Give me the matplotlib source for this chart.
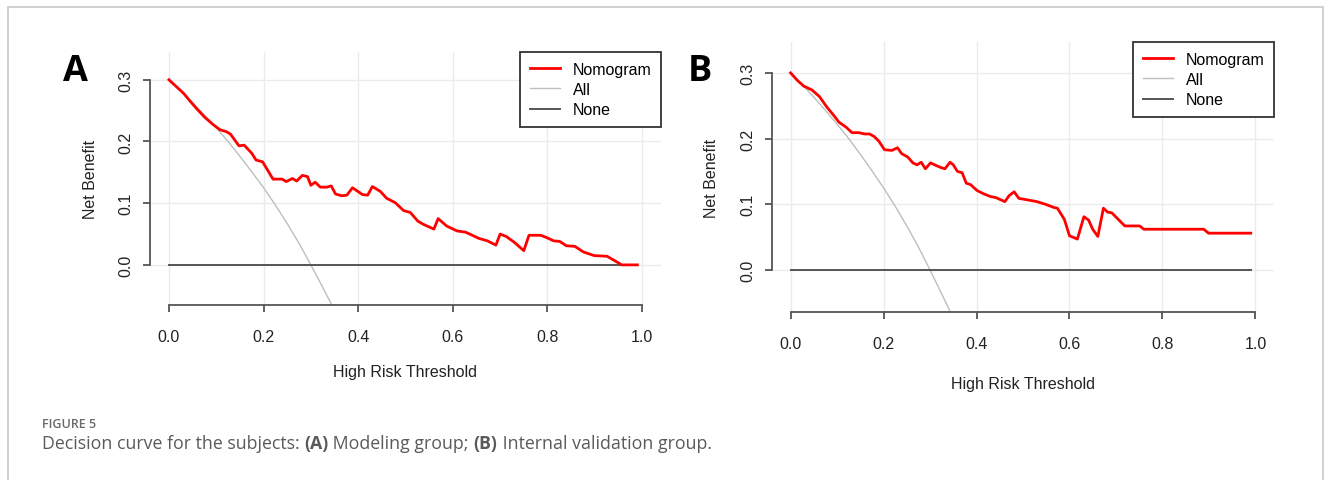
import matplotlib
matplotlib.use("Agg")
import matplotlib.pyplot as plt
from matplotlib.lines import Line2D
from matplotlib.patches import Rectangle

plt.rcParams['font.family'] = ['Liberation Sans', 'DejaVu Sans']

# ---- data ----
# panel A (modeling group)
thr_a = [0.0, 0.031, 0.044, 0.06, 0.076, 0.094, 0.108, 0.121, 0.13, 0.148, 0.159, 0.175,
         0.184, 0.198, 0.22, 0.239, 0.248, 0.261, 0.27, 0.282, 0.293, 0.30, 0.309, 0.32,
         0.334, 0.343, 0.352, 0.365, 0.376, 0.388, 0.409, 0.42, 0.43, 0.447, 0.46, 0.478,
         0.496, 0.51, 0.526, 0.537, 0.56, 0.569, 0.587, 0.609, 0.627, 0.655, 0.673, 0.691,
         0.70, 0.713, 0.731, 0.75, 0.761, 0.786, 0.799, 0.813, 0.826, 0.84, 0.858, 0.876,
         0.899, 0.926, 0.944, 0.957, 0.99]
nomo_a = [0.30, 0.278, 0.266, 0.252, 0.239, 0.227, 0.219, 0.216, 0.212, 0.193, 0.194, 0.181,
          0.170, 0.167, 0.139, 0.139, 0.135, 0.140, 0.136, 0.145, 0.143, 0.129, 0.134, 0.126,
          0.126, 0.128, 0.115, 0.112, 0.113, 0.125, 0.114, 0.113, 0.127, 0.119, 0.108, 0.101,
          0.088, 0.085, 0.071, 0.066, 0.058, 0.075, 0.063, 0.055, 0.053, 0.043, 0.039, 0.032,
          0.050, 0.046, 0.036, 0.023, 0.048, 0.048, 0.044, 0.039, 0.038, 0.031, 0.030, 0.021,
          0.015, 0.014, 0.006, 0.0, 0.0]

# panel B (internal validation group)
thr_b = [0.0, 0.014, 0.028, 0.046, 0.062, 0.078, 0.092, 0.104, 0.12, 0.132, 0.147, 0.159,
         0.17, 0.18, 0.19, 0.202, 0.218, 0.23, 0.239, 0.252, 0.263, 0.272, 0.281, 0.29,
         0.301, 0.313, 0.323, 0.332, 0.343, 0.35, 0.359, 0.369, 0.378, 0.387, 0.401, 0.415,
         0.429, 0.442, 0.461, 0.47, 0.481, 0.491, 0.507, 0.53, 0.548, 0.567, 0.574, 0.589,
         0.60, 0.617, 0.631, 0.641, 0.65, 0.661, 0.673, 0.682, 0.691, 0.705, 0.719, 0.751,
         0.76, 0.889, 0.899, 0.99]
nomo_b = [0.30, 0.289, 0.280, 0.274, 0.264, 0.248, 0.236, 0.225, 0.217, 0.209, 0.209, 0.207,
          0.207, 0.203, 0.196, 0.183, 0.182, 0.186, 0.177, 0.172, 0.163, 0.160, 0.164, 0.154,
          0.163, 0.159, 0.156, 0.154, 0.164, 0.160, 0.150, 0.148, 0.132, 0.130, 0.121, 0.116,
          0.112, 0.110, 0.104, 0.113, 0.119, 0.109, 0.107, 0.104, 0.100, 0.095, 0.094, 0.077,
          0.052, 0.047, 0.081, 0.076, 0.062, 0.051, 0.094, 0.088, 0.087, 0.077, 0.067, 0.067,
          0.062, 0.062, 0.056, 0.056]

# treat-all curve (same in both panels), read at several thresholds
thr_all = [0.0, 0.025, 0.05, 0.075, 0.10, 0.125, 0.15, 0.175, 0.20, 0.225, 0.25,
           0.275, 0.30, 0.32, 0.345]
nb_all = [0.30, 0.282, 0.263, 0.243, 0.222, 0.20, 0.176, 0.151, 0.125, 0.097, 0.067,
          0.035, 0.0, -0.029, -0.066]

# treat-none line
thr_none = [0.0, 0.99]
nb_none = [0.0, 0.0]

xticks = [0.0, 0.2, 0.4, 0.6, 0.8, 1.0]
yticks = [0.0, 0.1, 0.2, 0.3]

W, H = 1331, 481
fig = plt.figure(figsize=(W / 100, H / 100), dpi=100)

# thin frame around the figure panel
fig.add_artist(Rectangle((8 / W, -0.1), (1323 - 8) / W, (H - 8) / H + 0.1,
                         transform=fig.transFigure, fill=False,
                         edgecolor='#c8c8c8', lw=1.2))


def px_axes(left, top, right, bottom):
    return fig.add_axes([left / W, 1 - bottom / H, (right - left) / W, (bottom - top) / H])


def draw_panel(ax, thr, nomo, ylim, letter, letter_xy, xlab_pad):
    ax.set_xlim(-0.04, 1.04)
    ax.set_ylim(*ylim)
    ax.grid(True, color='#ebebeb', lw=1.0)
    ax.set_axisbelow(True)
    ax.plot(thr_all, nb_all, color='#bebebe', lw=1.0)
    ax.plot(thr_none, nb_none, color='#555555', lw=1.4)
    ax.plot(thr, nomo, color='#ff0000', lw=2.0)

    for s in ['top', 'right']:
        ax.spines[s].set_visible(False)
    ax.spines['left'].set_bounds(0, 0.3)
    ax.spines['bottom'].set_bounds(0, 1.0)
    for s in ['left', 'bottom']:
        ax.spines[s].set_color('#555555')
        ax.spines[s].set_linewidth(1.3)

    ax.set_xticks(xticks)
    ax.set_xticklabels([f'{v:.1f}' for v in xticks])
    ax.set_yticks(yticks)
    ax.set_yticklabels([f'{v:.1f}' for v in yticks], rotation=90, va='center')
    ax.tick_params(axis='both', length=5, width=1.3, color='#555555',
                   labelsize=11.5, labelcolor='#222222')
    ax.tick_params(axis='x', pad=12)
    ax.tick_params(axis='y', pad=7)
    ax.set_xlabel('High Risk Threshold', fontsize=11.5, color='#222222', labelpad=xlab_pad)
    ax.set_ylabel('Net Benefit', fontsize=11.5, color='#222222', labelpad=15)

    handles = [Line2D([], [], color='#ff0000', lw=2.0),
               Line2D([], [], color='#bebebe', lw=1.0),
               Line2D([], [], color='#555555', lw=1.4)]
    leg = ax.legend(handles, ['Nomogram', 'All', 'None'], loc='upper right',
                    borderaxespad=0, fancybox=False, framealpha=1,
                    edgecolor='#333333', fontsize=11.5, handlelength=1.9,
                    handletextpad=0.8, labelspacing=0.33, borderpad=0.6)
    leg.get_frame().set_linewidth(1.3)

    fig.text(letter_xy[0] / W, 1 - letter_xy[1] / H, letter, fontsize=26,
             fontweight='bold', family='Open Sans', ha='center', va='center')


ax_a = px_axes(150, 53, 661, 306)
draw_panel(ax_a, thr_a, nomo_a, (-0.065, 0.345), 'A', (75, 72), 15)

ax_b = px_axes(772, 43, 1274, 313)
draw_panel(ax_b, thr_b, nomo_b, (-0.064, 0.347), 'B', (700, 72), 18)

# caption
fig.text(42 / W, 1 - 425 / H, 'FIGURE 5', fontsize=9, family='Open Sans',
         fontweight='semibold', color='#6a6a6a', va='center')

renderer = fig.canvas.get_renderer()
pieces = [('Decision curve for the subjects: ', 'normal'), ('(A)', 'bold'),
          (' Modeling group; ', 'normal'), ('(B)', 'bold'),
          (' Internal validation group.', 'normal')]
x = 42
for txt, wt in pieces:
    t = fig.text(x / W, 1 - 444 / H, txt, fontsize=12.8, family='Open Sans',
                 fontweight=wt, color='#5a5a5a', va='center')
    x += t.get_window_extent(renderer).width

fig.savefig('out.png', dpi=100)
